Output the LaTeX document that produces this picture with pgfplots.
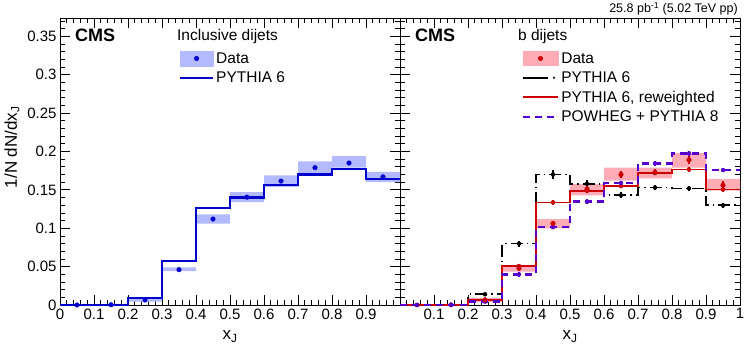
\documentclass[border=0pt]{standalone}
\usepackage{pgfplots}
\pgfplotsset{compat=1.18}
\usepackage{pgfplotstable}
\usepgfplotslibrary{fillbetween}
\usepackage{fontspec}
\setmainfont{Liberation Sans}

\definecolor{incblue}{RGB}{0,0,204}
\definecolor{bandblue}{RGB}{180,186,255}
\definecolor{bred}{RGB}{204,0,0}
\definecolor{bandred}{RGB}{255,172,182}
\definecolor{powpurple}{RGB}{85,0,204}

% inclusive dijets: bin left edges, syst band, PYTHIA 6
\pgfplotstableread{
x    lo     hi     mc
0.0  0.0    0.0015 0.0
0.1  0.0    0.0015 0.0
0.2  0.0045 0.0085 0.0087
0.3  0.044  0.049  0.057
0.4  0.106  0.118  0.126
0.5  0.134  0.147  0.140
0.6  0.154  0.169  0.156
0.7  0.171  0.187  0.170
0.8  0.179  0.194  0.177
0.9  0.160  0.1735 0.164
1.0  0.160  0.1735 0.164
}\inclhist

\pgfplotstableread{
xc   y
0.05 0.0
0.15 0.0003
0.25 0.0065
0.35 0.046
0.45 0.112
0.55 0.1405
0.65 0.1615
0.75 0.179
0.85 0.185
0.95 0.167
}\incldata

% b dijets: bin left edges, syst band, PYTHIA 6, reweighted, POWHEG
\pgfplotstableread{
x    lo     hi     ptsix  rw     pw
0.0  0.0    0.001  0.0    0.0    0.0
0.1  0.0    0.001  0.0005 0.0    0.0
0.2  0.004  0.009  0.014  0.007  0.0043
0.3  0.0434 0.052  0.080  0.0508 0.040
0.4  0.0999 0.112  0.170  0.1337 0.1015
0.5  0.143  0.1576 0.158  0.149  0.1346
0.6  0.162  0.179  0.143  0.155  0.159
0.7  0.165  0.179  0.153  0.172  0.1845
0.8  0.179  0.198  0.152  0.1767 0.1975
0.9  0.149  0.164  0.130  0.1506 0.1758
1.0  0.149  0.164  0.130  0.1506 0.1758
}\bhist

\pgfplotstableread{
xc   y      ey     ptsix  eptsix rw     erw    pw     epw
0.05 nan    0.0005 0.0    0.0005 0.0    0.0005 0.0    0.0005
0.15 nan    0.0005 0.0005 0.001  0.0    0.0005 0.0    0.0005
0.25 0.0065 0.002  0.014  0.002  0.007  0.0015 0.0043 0.0015
0.35 0.0478 0.003  0.080  0.004  0.0508 0.003  0.040  0.003
0.45 0.1063 0.0037 0.170  0.006  0.1337 0.0035 0.1015 0.003
0.55 0.151  0.004  0.158  0.005  0.149  0.0035 0.1346 0.003
0.65 0.170  0.004  0.143  0.004  0.155  0.003  0.159  0.003
0.75 0.1728 0.004  0.153  0.003  0.172  0.003  0.1845 0.003
0.85 0.189  0.005  0.152  0.003  0.1767 0.003  0.1975 0.003
0.95 0.156  0.005  0.130  0.003  0.1506 0.003  0.1758 0.003
}\bdata

\pgfplotsset{
  cmsaxis/.style={
    width=340pt, height=287pt, scale only axis,
    xmin=0, xmax=1, ymin=0, ymax=0.374,
    clip mode=individual,
    axis line style={line width=0.8pt},
    tick align=inside,
    major tick length=10pt, minor tick length=5pt,
    every tick/.style={black, line width=0.8pt},
    xtick={0,0.1,0.2,0.3,0.4,0.5,0.6,0.7,0.8,0.9,1},
    ytick={0,0.05,0.1,0.15,0.2,0.25,0.3,0.35},
    minor xtick={0,0.02,...,1},
    minor ytick={0,0.01,...,0.37},
    tick label style={font=\fontsize{15}{17}\selectfont},
    /pgf/number format/assume math mode=true,
    xlabel={x\textsubscript{J}},
    xlabel style={font=\fontsize{17}{19}\selectfont, at={(axis description cs:0.5,-0.077)}, anchor=north},
    legend cell align=left,
    legend style={draw=none, fill=none, inner sep=0pt, outer sep=0pt,
      font=\fontsize{15.5}{17}\selectfont, row sep=3pt,
      /tikz/every even column/.append style={column sep=4pt}},
  },
}

\begin{document}
\begin{tikzpicture}

% ---------------- inclusive dijets ----------------
\begin{axis}[cmsaxis, at={(0pt,0pt)}, anchor=south west,
  xticklabels={0,0.1,0.2,0.3,0.4,0.5,0.6,0.7,0.8,0.9,},
  yticklabels={0,0.05,0.1,0.15,0.2,0.25,0.3,0.35},
  ylabel={1/N dN/dx\textsubscript{J}},
  ylabel style={font=\fontsize{17}{19}\selectfont, at={(axis description cs:-0.141,0.55)}, anchor=center},
  legend style={at={(rel axis cs:0.35,0.887)}, anchor=north west},
]
\addlegendimage{legend image code/.code={\fill[bandblue] (0pt,-7.5pt) rectangle (33pt,7.5pt); \fill[incblue] (16.5pt,0pt) circle (2.3pt);}}
\addlegendentry{Data}
\addlegendimage{legend image code/.code={\draw[incblue, line width=2.2pt] (0pt,0pt) -- (33pt,0pt);}}
\addlegendentry{PYTHIA 6}

\addplot[name path=ilo, draw=none, const plot mark left, forget plot] table[x=x, y=lo] {\inclhist};
\addplot[name path=ihi, draw=none, const plot mark left, forget plot] table[x=x, y=hi] {\inclhist};
\addplot[bandblue, forget plot] fill between[of=ihi and ilo];
\addplot[incblue, line width=2.2pt, const plot mark left, forget plot] table[x=x, y=mc] {\inclhist};
\addplot[only marks, mark=*, mark size=2.3pt, incblue, forget plot] table[x=xc, y=y] {\incldata};

\node[anchor=west, inner sep=0pt, font=\fontsize{18}{20}\bfseries] at (rel axis cs:0.044,0.941) {CMS};
\node[anchor=west, inner sep=0pt, font=\fontsize{15.5}{17}\selectfont] at (rel axis cs:0.344,0.934) {Inclusive dijets};
\end{axis}

% ---------------- b dijets ----------------
\begin{axis}[cmsaxis, at={(340pt,0pt)}, anchor=south west,
  xticklabels={,0.1,0.2,0.3,0.4,0.5,0.6,0.7,0.8,0.9,1},
  yticklabels={},
  legend style={at={(rel axis cs:0.358,0.887)}, anchor=north west},
]
\addlegendimage{legend image code/.code={\fill[bandred] (0pt,-7pt) rectangle (35pt,7pt); \fill[bred] (17.5pt,0pt) circle (2.3pt);}}
\addlegendentry{Data}
\addlegendimage{legend image code/.code={\draw[black, line width=1.6pt] (0pt,0pt) -- (25pt,0pt); \fill[black] (31pt,0pt) circle (0.9pt);}}
\addlegendentry{PYTHIA 6}
\addlegendimage{legend image code/.code={\draw[bred, line width=1.8pt] (0pt,0pt) -- (35pt,0pt);}}
\addlegendentry{PYTHIA 6, reweighted}
\addlegendimage{legend image code/.code={\draw[powpurple, line width=2.6pt, dash pattern=on 7pt off 5pt] (0pt,0pt) -- (35pt,0pt);}}
\addlegendentry{POWHEG + PYTHIA 8}

\addplot[name path=blo, draw=none, const plot mark left, forget plot] table[x=x, y=lo] {\bhist};
\addplot[name path=bhi, draw=none, const plot mark left, forget plot] table[x=x, y=hi] {\bhist};
\addplot[bandred, forget plot] fill between[of=bhi and blo];

% PYTHIA 6
\addplot[black, line width=1.6pt, dash pattern=on 12pt off 4pt on 1.5pt off 4pt, const plot mark left, forget plot] table[x=x, y=ptsix] {\bhist};
\addplot[only marks, mark=none, black, forget plot, error bars/.cd, y dir=both, y explicit, error mark=none, error bar style={line width=1.4pt, solid}] table[x=xc, y=ptsix, y error=eptsix] {\bdata};
% PYTHIA 6 reweighted
\addplot[bred, line width=1.8pt, const plot mark left, forget plot] table[x=x, y=rw] {\bhist};
\addplot[only marks, mark=none, bred, forget plot, error bars/.cd, y dir=both, y explicit, error mark=none, error bar style={line width=1.4pt}] table[x=xc, y=rw, y error=erw] {\bdata};
% POWHEG + PYTHIA 8
\addplot[powpurple, line width=2.6pt, dash pattern=on 7pt off 5pt, const plot mark left, forget plot] table[x=x, y=pw] {\bhist};
\addplot[only marks, mark=none, powpurple, forget plot, error bars/.cd, y dir=both, y explicit, error mark=none, error bar style={line width=1.4pt, solid}] table[x=xc, y=pw, y error=epw] {\bdata};
% data
\addplot[only marks, mark=*, mark size=2.3pt, bred, forget plot, error bars/.cd, y dir=both, y explicit, error mark=none, error bar style={line width=1.4pt}] table[x=xc, y=y, y error=ey] {\bdata};

\node[anchor=west, inner sep=0pt, font=\fontsize{18}{20}\bfseries] at (rel axis cs:0.044,0.941) {CMS};
\node[anchor=west, inner sep=0pt, font=\fontsize{15.5}{17}\selectfont] at (rel axis cs:0.347,0.934) {b dijets};
\node[anchor=base east, inner sep=0pt, font=\fontsize{12.5}{14}\selectfont] at (rel axis cs:0.994,1) [yshift=5pt] {25.8 pb\textsuperscript{-1} (5.02 TeV pp)};
\end{axis}

\pgfresetboundingbox
\path[use as bounding box] (-60pt,-54pt) rectangle (687pt,305pt);
\end{tikzpicture}
\end{document}
